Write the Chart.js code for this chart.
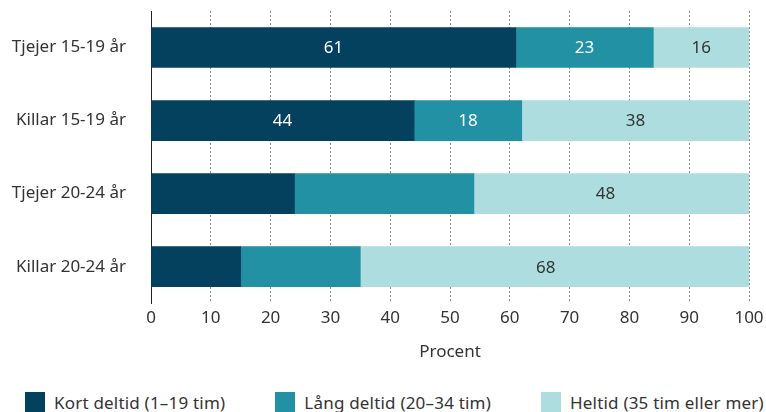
<!DOCTYPE html>
<html>
<head>
<meta charset="utf-8">
<script src="https://cdn.jsdelivr.net/npm/chart.js@4"></script>
<style>
  html, body { margin: 0; padding: 0; background: #fff; overflow: hidden; }
  body { width: 766px; height: 412px; position: relative; font-family: "Noto Sans", sans-serif; }
  #wrap { position: absolute; left: 0; top: 0; width: 766px; height: 362px; }
  #legend { position: absolute; left: 25px; top: 392px; display: flex; gap: 50px; font-size: 17px; letter-spacing: 0.2px; color: #333; white-space: nowrap; }
  #legend .item { display: flex; align-items: center; height: 20px; }
  #legend .box { width: 20px; height: 20px; margin-right: 9px; }
</style>
</head>
<body>
<div id="wrap"><canvas id="myChart" width="766" height="362"></canvas></div>
<div id="legend"></div>
<script>
const kategorier = ['Tjejer 15-19 år', 'Killar 15-19 år', 'Tjejer 20-24 år', 'Killar 20-24 år'];
const serier = ['Kort deltid (1–19 tim)', 'Lång deltid (20–34 tim)', 'Heltid (35 tim eller mer)'];
const kortDeltid = [61, 44, 24, 15];
const langDeltid = [23, 18, 30, 20];
const heltid = [16, 38, 48, 68];
// vilka rader som har siffror i staplarna för deltid
const deltidEtikett = [true, true, false, false];
const xTicks = [0, 10, 20, 30, 40, 50, 60, 70, 80, 90, 100];

const farger = ['#03415f', '#2191a3', '#aedddf'];
const textFarger = ['#ffffff', '#ffffff', '#333333'];
const FONT = '"Noto Sans", sans-serif';

const etiketter = {
  id: 'etiketter',
  afterDatasetsDraw(chart) {
    const ctx = chart.ctx;
    const x = chart.scales.x;
    ctx.save();
    ctx.font = '17px ' + FONT;
    ctx.textAlign = 'center';
    ctx.textBaseline = 'middle';
    let bas = kategorier.map(() => 0);
    chart.data.datasets.forEach((ds, i) => {
      const meta = chart.getDatasetMeta(i);
      ds.data.forEach((v, j) => {
        const start = bas[j];
        bas[j] += v;
        if (!ds.visaEtikett[j]) return;
        const mitt = Math.min(start + v / 2, 100 - v / 2);
        ctx.fillStyle = ds.textFarg;
        ctx.fillText(v, x.getPixelForValue(mitt), meta.data[j].y + 1);
      });
    });
    ctx.restore();
  }
};

const dataX = {
  labels: kategorier,
  datasets: [
    { label: serier[0], data: kortDeltid, backgroundColor: farger[0], textFarg: textFarger[0], visaEtikett: deltidEtikett },
    { label: serier[1], data: langDeltid, backgroundColor: farger[1], textFarg: textFarger[1], visaEtikett: deltidEtikett },
    { label: serier[2], data: heltid, backgroundColor: farger[2], textFarg: textFarger[2], visaEtikett: heltid.map(() => true) }
  ]
};

const config = {
  type: 'bar',
  data: dataX,
  plugins: [etiketter],
  options: {
    indexAxis: 'y',
    responsive: false,
    animation: false,
    devicePixelRatio: 1,
    barThickness: 40,
    layout: { padding: { top: 11, right: 17, left: 0, bottom: 0 } },
    plugins: { legend: { display: false }, tooltip: { enabled: false } },
    scales: {
      x: {
        stacked: true,
        min: 0,
        max: 100,
        afterBuildTicks: s => { s.ticks = xTicks.map(v => ({ value: v })); },
        afterFit: s => { s.paddingRight = 0; },
        ticks: { color: '#333', font: { family: FONT, size: 17 }, padding: 5, maxRotation: 0 },
        grid: { color: '#8a8a8a', drawTicks: false },
        border: { display: false, dash: [2, 2] },
        title: { display: true, text: 'Procent', color: '#333', font: { family: FONT, size: 17 }, padding: { top: 8, bottom: 0 } }
      },
      y: {
        stacked: true,
        afterFit: s => { s.width = 151; },
        ticks: { color: '#333', font: { family: FONT, size: 17 }, padding: 0 },
        grid: { display: true, drawOnChartArea: false, drawTicks: true, tickLength: 25, tickColor: 'rgba(0,0,0,0)' },
        border: { display: true, color: '#222', width: 1 }
      }
    }
  }
};

const myChart = new Chart(document.getElementById('myChart'), config);

const legend = document.getElementById('legend');
serier.forEach((s, i) => {
  const item = document.createElement('div');
  item.className = 'item';
  item.innerHTML = '<span class="box" style="background:' + farger[i] + '"></span><span>' + s + '</span>';
  legend.appendChild(item);
});
</script>
</body>
</html>
